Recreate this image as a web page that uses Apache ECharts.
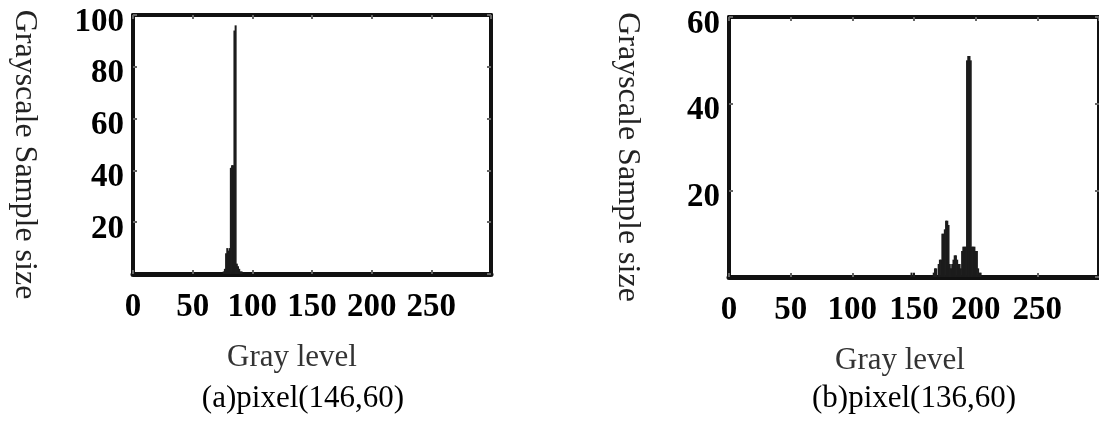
<!DOCTYPE html>
<html>
<head>
<meta charset="utf-8">
<script src="https://cdn.jsdelivr.net/npm/echarts@6/dist/echarts.min.js"></script>
<style>
  html, body { margin: 0; padding: 0; background: #fff; }
  #main { width: 1099px; height: 423px; }
</style>
</head>
<body>
<div id="main"></div>
<script>
// (a) pixel(146,60)
var grayA  = [76, 77, 78, 79, 80, 81, 82, 83, 84, 85, 86, 87, 88, 89, 90, 91];
var countA = [1, 2, 8, 10, 9, 10, 41, 42, 42, 94, 96, 4, 3, 2, 1, 1];
// (b) pixel(136,60)
var grayB  = [148, 150, 166, 167, 168, 170, 171, 172, 173, 174, 175, 176, 177, 178, 179, 180,
              181, 182, 183, 184, 185, 186, 187, 188, 189, 190, 191, 192, 193, 194, 195, 196,
              197, 198, 199, 200, 201, 202, 203, 204];
var countB = [1, 1, 1, 2, 2, 3, 4, 4, 10, 10, 11, 13, 13, 12, 3, 2,
              3, 4, 5, 5, 4, 3, 3, 2, 6, 7, 7, 7, 50, 51, 51, 50,
              7, 7, 7, 6, 6, 2, 1, 1];

var yMaxA = 100, yMaxB = 60;
var xMax = 300;

var serif = 'Liberation Serif';
var myChart = echarts.init(document.getElementById('main'));

function xAxes(grid, shift) {
  return [{
    gridIndex: grid, type: 'value', position: 'bottom', min: 0, max: xMax, interval: 50,
    name: 'Gray level', nameLocation: 'middle', nameGap: 68,
    nameTextStyle: { fontFamily: serif, fontSize: 31, color: '#333', padding: [0, shift, 0, 0] },
    axisLine: { onZero: false, lineStyle: { color: '#111', width: 5 } },
    axisTick: { inside: true, length: 4, lineStyle: { color: '#666', width: 2 } },
    axisLabel: { showMaxLabel: false, margin: 17, color: '#000', fontFamily: serif,
                 fontWeight: 'bold', fontSize: 33 },
    splitLine: { show: false }
  }, {
    gridIndex: grid, type: 'value', position: 'top', min: 0, max: xMax, interval: 50,
    axisLine: { onZero: false, lineStyle: { color: '#111', width: 4 } },
    axisTick: { inside: true, length: 4, lineStyle: { color: '#666', width: 2 } },
    axisLabel: { show: false },
    splitLine: { show: false }
  }];
}

function yAxes(grid, max, gap) {
  return [{
    gridIndex: grid, type: 'value', position: 'left', min: 0, max: max, interval: 20,
    name: 'Grayscale Sample size', nameLocation: 'middle', nameRotate: -90, nameGap: gap,
    nameTextStyle: { fontFamily: serif, fontSize: 32, color: '#222', padding: [0, 0, 0, 20] },
    axisLine: { onZero: false, lineStyle: { color: '#111', width: 4 } },
    axisTick: { inside: true, length: 4, lineStyle: { color: '#666', width: 2 } },
    axisLabel: { showMinLabel: false, margin: 9, color: '#000', fontFamily: serif,
                 fontWeight: 'bold', fontSize: 33, verticalAlign: 'top', lineHeight: 14 },
    splitLine: { show: false }
  }, {
    gridIndex: grid, type: 'value', position: 'right', min: 0, max: max, interval: 20,
    axisLine: { onZero: false, lineStyle: { color: '#111', width: 4 } },
    axisTick: { inside: true, length: 4, lineStyle: { color: '#666', width: 2 } },
    axisLabel: { show: false },
    splitLine: { show: false }
  }];
}

var option = {
  animation: false,
  backgroundColor: '#fff',
  title: [{
    text: '(a)pixel(146,60)', left: 298, top: 378, textAlign: 'center',
    textStyle: { fontFamily: serif, fontSize: 31, fontWeight: 'normal', color: '#000' }
  }, {
    text: '(b)pixel(136,60)', left: 909, top: 378, textAlign: 'center',
    textStyle: { fontFamily: serif, fontSize: 31, fontWeight: 'normal', color: '#000' }
  }],
  grid: [
    { left: 133, top: 15, width: 358, height: 259 },
    { left: 729, top: 17, width: 374, height: 260 }
  ],
  xAxis: xAxes(0, 40).concat(xAxes(1, 28)),
  yAxis: yAxes(0, yMaxA, 93).concat(yAxes(1, yMaxB, 86)),
  series: [{
    type: 'bar', xAxisIndex: 0, yAxisIndex: 0, barWidth: 2,
    itemStyle: { color: '#1c1c1c' },
    data: grayA.map(function (g, i) { return [g, countA[i]]; })
  }, {
    type: 'bar', xAxisIndex: 2, yAxisIndex: 2, barWidth: 2,
    itemStyle: { color: '#1c1c1c' },
    data: grayB.map(function (g, i) { return [g, countB[i]]; })
  }]
};
myChart.setOption(option);
</script>
</body>
</html>
